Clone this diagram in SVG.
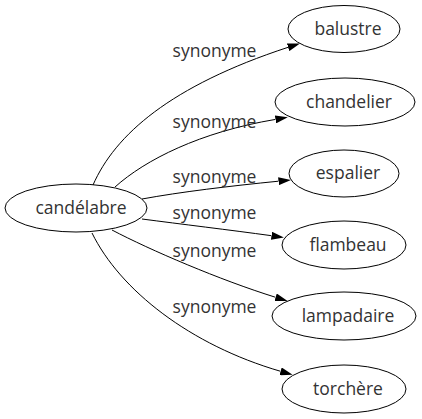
<svg xmlns="http://www.w3.org/2000/svg" width="422" height="419" viewBox="0 0 422 419">
<style>
.n ellipse{fill:none;stroke:#000;stroke-width:1}
text{font-family:"Open Sans","DejaVu Sans",sans-serif;font-size:17.5px;fill:#333;text-anchor:middle}
.e path{fill:none;stroke:#000;stroke-width:1}
</style>
<defs>
<marker id="a" markerWidth="13" markerHeight="8" refX="0" refY="4" orient="auto" markerUnits="userSpaceOnUse"><path d="M0,0 L12.5,4 L0,8 z" fill="#000"/></marker>
</defs>
<rect width="422" height="419" fill="#fff"/>
<g id="edges" class="e">
<path d="M93,185 C115,135 170,86 288.1,47.3" marker-end="url(#a)"/>
<path d="M115,187 C145,160 200,132 275.5,119.4" marker-end="url(#a)"/>
<path d="M142,199 C180,192 230,186 278.5,181.2" marker-end="url(#a)"/>
<path d="M142,219 C180,224 230,230 271.5,235.7" marker-end="url(#a)"/>
<path d="M112,230 C150,250 220,280 275.6,297.3" marker-end="url(#a)"/>
<path d="M92,233 C120,290 190,345 280.6,371.3" marker-end="url(#a)"/>
<text x="214.5" y="57">synonyme</text>
<text x="214.5" y="128">synonyme</text>
<text x="214.5" y="183">synonyme</text>
<text x="214.5" y="219">synonyme</text>
<text x="214.5" y="257">synonyme</text>
<text x="214.5" y="313">synonyme</text>
</g>
<g id="candelabre" class="n"><ellipse cx="76" cy="208" rx="71" ry="24"/><text x="81" y="214">candélabre</text></g>
<g id="balustre" class="n"><ellipse cx="344" cy="29" rx="56" ry="23.5"/><text x="348" y="35">balustre</text></g>
<g id="chandelier" class="n"><ellipse cx="345" cy="102" rx="70" ry="24"/><text x="349" y="108">chandelier</text></g>
<g id="espalier" class="n"><ellipse cx="344" cy="173.5" rx="55" ry="23.5"/><text x="348" y="179">espalier</text></g>
<g id="flambeau" class="n"><ellipse cx="344" cy="245" rx="62" ry="24"/><text x="348" y="251">flambeau</text></g>
<g id="lampadaire" class="n"><ellipse cx="344" cy="316" rx="72" ry="24"/><text x="348" y="322">lampadaire</text></g>
<g id="torchere" class="n"><ellipse cx="344" cy="389" rx="62" ry="24"/><text x="348" y="395">torchère</text></g>
</svg>
